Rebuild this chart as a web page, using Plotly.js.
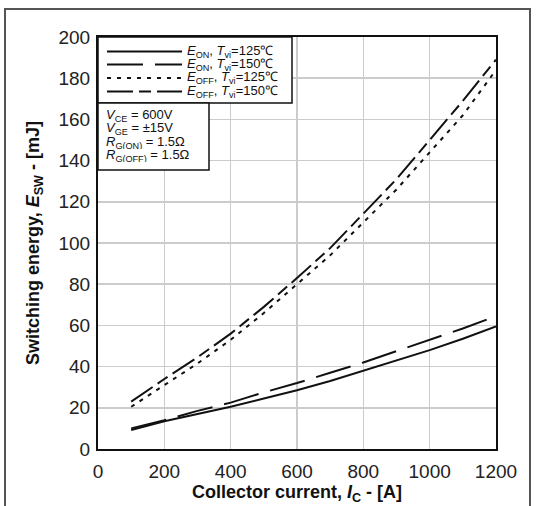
<!DOCTYPE html>
<html><head><meta charset="utf-8">
<script src="https://cdn.plot.ly/plotly-3.0.1.min.js"></script>
<style>html,body{margin:0;padding:0;background:#fff;overflow:hidden}
#wrap{position:relative;width:536px;height:506px}
#frame{position:absolute;left:4px;top:8px;width:527px;height:520px;border:2px solid #555;border-bottom:none;pointer-events:none;box-sizing:border-box}
</style>
</head><body>
<div id="wrap"><div id="chart" style="width:536px;height:506px"></div><div id="frame"></div></div>
<script>
const current = [100,200,300,400,500,600,700,800,900,1000,1100,1200];
const eOn125  = [9.2,13.5,17,20.5,24.5,28.5,33,38,43,48,53.5,59.5];
const eOn150  = [10,14,18.5,22.5,27.5,32,37,42,47.5,53,58.5,64.5];
const eOff125 = [20.5,31,41.5,53,66,80,94,110,126,144,162,184];
const eOff150 = [23,34,44.5,56,69,83,97.5,114,131,150,169,189];
const xTicks = [0,200,400,600,800,1000,1200];
const yTicks = [0,20,40,60,80,100,120,140,160,180,200];
const legendLabels = ["<i>E</i><sub>ON</sub>, <i>T</i><sub>vj</sub>=125℃","<i>E</i><sub>ON</sub>, <i>T</i><sub>vj</sub>=150℃","<i>E</i><sub>OFF</sub>, <i>T</i><sub>vj</sub>=125℃","<i>E</i><sub>OFF</sub>, <i>T</i><sub>vj</sub>=150℃"];
const condLabels = ["<i>V</i><sub>CE</sub> = 600V","<i>V</i><sub>GE</sub> = ±15V","<i>R</i><sub>G(ON)</sub> = 1.5Ω","<i>R</i><sub>G(OFF)</sub> = 1.5Ω"];

const dashes = ["solid","36px,12px","4px,6px","26px,6px,12px,6px"];
const series = [eOn125,eOn150,eOff125,eOff150];
const traces = series.map((s,i)=>({x:current,y:s,type:"scatter",mode:"lines",
  line:{color:"#111",width:2,dash:dashes[i]},showlegend:false,hoverinfo:"skip"}));

const L=98,R=496,T=37,B=449;
const px=x=>(x-L)/(R-L), py=y=>(B-y)/(B-T);
const font="Liberation Sans, Arial, sans-serif";
const shapes=[], annotations=[];
// legend boxes
shapes.push({type:"rect",xref:"paper",yref:"paper",x0:px(98),x1:px(292),y0:py(103),y1:py(37),line:{color:"#111",width:1.5},fillcolor:"#fff"});
shapes.push({type:"rect",xref:"paper",yref:"paper",x0:px(98),x1:px(209),y0:py(170),y1:py(103),line:{color:"#111",width:1.5},fillcolor:"#fff"});
const rowsY=[51.5,64.5,78,91.5];
rowsY.forEach((yy,i)=>{
  shapes.push({type:"line",xref:"paper",yref:"paper",x0:px(107),x1:px(182),y0:py(yy),y1:py(yy),line:{color:"#111",width:2,dash:dashes[i]}});
  annotations.push({xref:"paper",yref:"paper",x:px(185),y:py(yy),xanchor:"left",yanchor:"middle",showarrow:false,height:13,text:legendLabels[i],font:{family:font,size:13,color:"#111"}});
});
[115,128.5,142,155.5].forEach((yy,i)=>{
  annotations.push({xref:"paper",yref:"paper",x:px(104),y:py(yy),xanchor:"left",yanchor:"middle",showarrow:false,height:13,text:condLabels[i],font:{family:font,size:13,color:"#111"}});
});

const layout={
  width:536,height:506,margin:{l:L,r:536-R,t:T,b:506-B},
  paper_bgcolor:"#fff",plot_bgcolor:"#fff",
  xaxis:{range:[0,1200],tickvals:xTicks,ticks:"",showgrid:true,gridcolor:"#cccccc",gridwidth:1.5,
    showline:true,linecolor:"#111",linewidth:2,mirror:true,zeroline:false,ticklabelstandoff:4,
    tickfont:{family:font,size:19,color:"#222"},
    title:{text:"<b>Collector current, <i>I</i><sub>C</sub> - [A]</b>",font:{family:font,size:18,color:"#111"},standoff:0}},
  yaxis:{range:[0,200],tickvals:yTicks,ticks:"",showgrid:true,gridcolor:"#cccccc",gridwidth:1.5,
    showline:true,linecolor:"#111",linewidth:2,mirror:true,zeroline:false,ticklabelstandoff:2,
    tickfont:{family:font,size:19,color:"#222"},
    title:{text:"<b>Switching energy, <i>E</i><sub>SW</sub> - [mJ]</b>",font:{family:font,size:18,color:"#111"},standoff:14}},
  shapes:shapes,annotations:annotations
};
Plotly.newPlot("chart",traces,layout,{displayModeBar:false,staticPlot:true});
</script>
</body></html>
